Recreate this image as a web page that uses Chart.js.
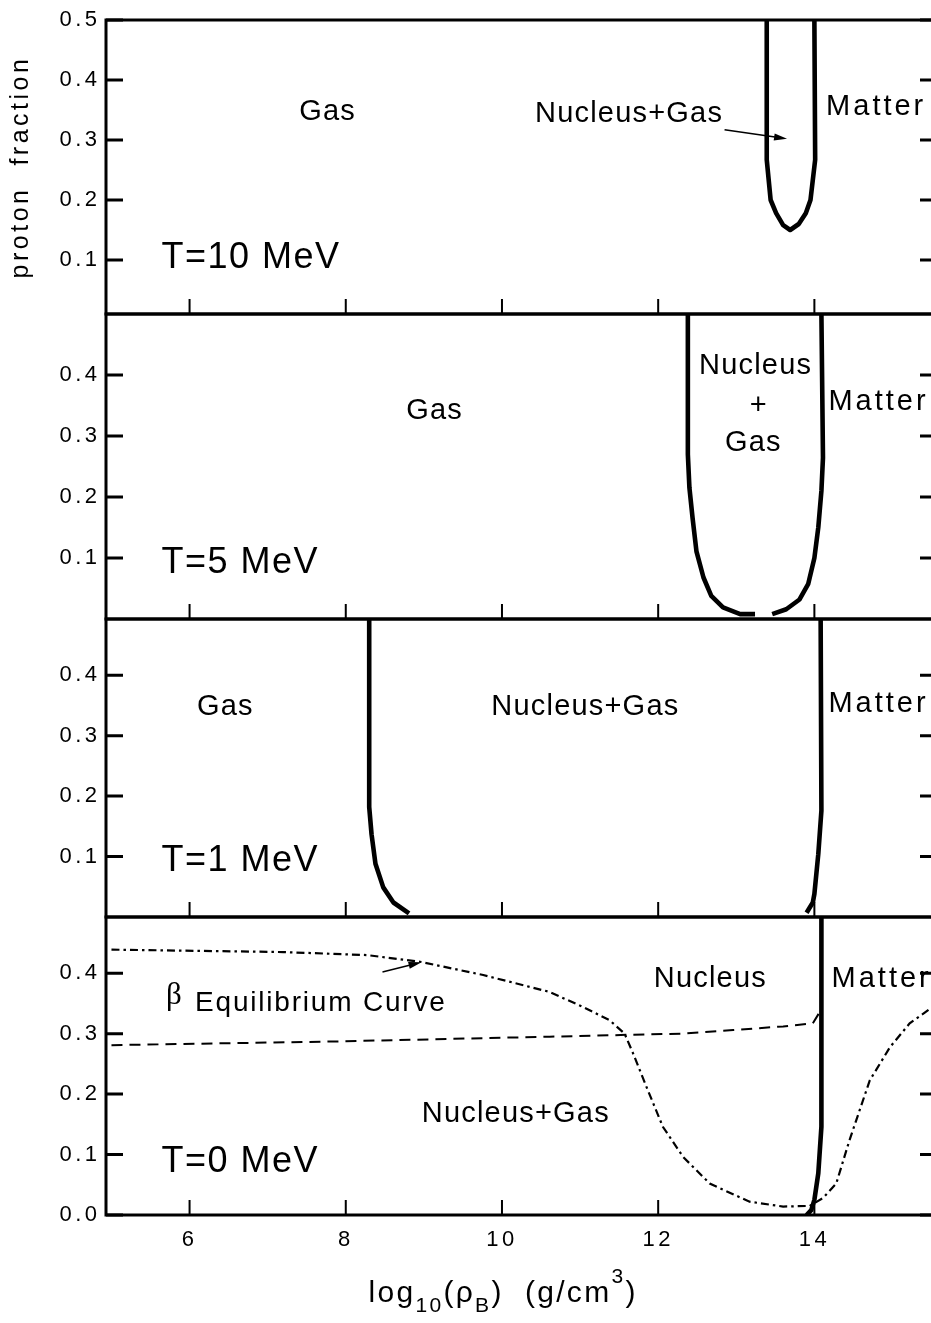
<!DOCTYPE html>
<html><head><meta charset="utf-8">
<script src="https://cdn.jsdelivr.net/npm/chart.js@4/dist/chart.umd.min.js"></script>
<style>
html,body{margin:0;padding:0;background:#fff;overflow:hidden;width:931px;height:1323px;position:relative;}
canvas{position:absolute;left:0;top:0;}
</style></head><body>
<canvas id="c1" width="945" height="1323"></canvas>
<canvas id="c2" width="945" height="1323"></canvas>
<canvas id="c3" width="945" height="1323"></canvas>
<canvas id="c4" width="945" height="1323"></canvas>
<script>
// ---------- data ----------
const xTicks   = [6, 8, 10, 12, 14];
const yTicksT10 = [0.1, 0.2, 0.3, 0.4, 0.5];
const yTicksT5  = [0.1, 0.2, 0.3, 0.4];
const yTicksT1  = [0.1, 0.2, 0.3, 0.4];
const yTicksT0  = [0.0, 0.1, 0.2, 0.3, 0.4];

// T = 10 MeV: nucleus+gas boundary
const t10X = [13.39, 13.39, 13.44, 13.51, 13.60, 13.69, 13.80, 13.89, 13.95, 14.01, 14.00];
const t10Y = [0.50, 0.267, 0.200, 0.178, 0.158, 0.150, 0.160, 0.178, 0.200, 0.267, 0.50];

// T = 5 MeV
const t5LeftX  = [12.38, 12.38, 12.40, 12.44, 12.49, 12.58, 12.68, 12.83, 13.05, 13.24];
const t5LeftY  = [0.50, 0.270, 0.215, 0.166, 0.111, 0.068, 0.038, 0.019, 0.008, 0.008];
const t5RightX = [13.46, 13.64, 13.81, 13.92, 14.00, 14.05, 14.09, 14.11, 14.09];
const t5RightY = [0.008, 0.016, 0.032, 0.057, 0.100, 0.150, 0.210, 0.264, 0.50];

// T = 1 MeV
const t1LeftX  = [8.30, 8.30, 8.33, 8.38, 8.48, 8.61, 8.81];
const t1LeftY  = [0.50, 0.182, 0.137, 0.088, 0.049, 0.024, 0.006];
const t1RightX = [14.08, 14.09, 14.05, 14.00, 13.98, 13.90];
const t1RightY = [0.50, 0.176, 0.104, 0.038, 0.024, 0.007];

// T = 0 MeV
const t0SolidX = [14.09, 14.09, 14.05, 14.00, 13.96, 13.90];
const t0SolidY = [0.50, 0.146, 0.069, 0.025, 0.008, 0.000];
const t0DashX  = [5.00, 7.83, 10.61, 11.59, 12.32, 12.96, 13.60, 13.98, 14.06];
const t0DashY  = [0.281, 0.287, 0.295, 0.298, 0.300, 0.306, 0.312, 0.317, 0.334];
const betaX = [5.00, 7.20, 8.27, 8.95, 9.76, 10.61, 11.04, 11.38, 11.57, 11.68, 11.85, 12.06, 12.32,
               12.66, 13.17, 13.60, 13.94, 14.11, 14.28, 14.45, 14.71, 14.97, 15.22, 15.49, 15.60];
const betaY = [0.439, 0.435, 0.430, 0.419, 0.397, 0.369, 0.344, 0.322, 0.300, 0.267, 0.212, 0.146, 0.096,
               0.052, 0.022, 0.014, 0.015, 0.028, 0.052, 0.124, 0.223, 0.278, 0.317, 0.342, 0.352];

const yTitle = 'proton  fraction';
const xTitleParts = ['log', '10', '(ρ', 'B', ')', '  (g/cm', '3', ')'];
const xTitleRoles = ['n', 'sub', 'n', 'sub', 'n', 'n', 'sup', 'n'];

// ---------- layout / style ----------
const FONT = "'Liberation Sans', Arial, Helvetica, sans-serif";
const CW = 945, CH = 1323;
const AXIS_LEFT = 106, AXIS_RIGHT = 937;
const X_MIN = 4.93, X_MAX = 15.57;

function pts(xs, ys) { return xs.map((x, i) => ({x: x, y: ys[i]})); }
const solid = (xs, ys) => ({data: pts(xs, ys), borderColor: '#000', borderWidth: 4.6, borderJoinStyle: 'round'});
const dashed = (xs, ys) => ({data: pts(xs, ys), borderColor: '#000', borderWidth: 2, borderDash: [11, 7]});
const dashDot = (xs, ys) => ({data: pts(xs, ys), borderColor: '#000', borderWidth: 2.2, borderDash: [8, 4, 2.5, 4]});

const panels = [
  {id: 'c1', top: 20, bottom: 314, yMin: 0.01, yMax: 0.5, yTicks: yTicksT10, title: yTitle, xLabels: false,
   series: [solid(t10X, t10Y)],
   notes: [
     {t: 'Gas', x: 7.76, y: 0.347},
     {t: 'Nucleus+Gas', x: 11.62, y: 0.343},
     {t: 'Matter', x: 14.15, y: 0.355, align: 'left', ls: 3},
     {t: 'T=10 MeV', x: 5.64, y: 0.103, align: 'left', size: 36, ls: 1.5}
   ],
   arrows: [{x1: 12.85, y1: 0.317, x2: 13.65, y2: 0.302}]},
  {id: 'c2', top: 314, bottom: 619, yMin: 0, yMax: 0.5, yTicks: yTicksT5, xLabels: false,
   series: [solid(t5LeftX, t5LeftY), solid(t5RightX, t5RightY)],
   notes: [
     {t: 'Gas', x: 9.13, y: 0.341},
     {t: 'Nucleus', x: 13.24, y: 0.415},
     {t: '+', x: 13.28, y: 0.350},
     {t: 'Gas', x: 13.21, y: 0.289},
     {t: 'Matter', x: 14.18, y: 0.355, align: 'left', ls: 3},
     {t: 'T=5 MeV', x: 5.64, y: 0.092, align: 'left', size: 36, ls: 1.5}
   ], arrows: []},
  {id: 'c3', top: 619, bottom: 917, yMin: 0, yMax: 0.493, yTicks: yTicksT1, xLabels: false,
   series: [solid(t1LeftX, t1LeftY), solid(t1RightX, t1RightY)],
   notes: [
     {t: 'Gas', x: 6.45, y: 0.347},
     {t: 'Nucleus+Gas', x: 11.06, y: 0.347},
     {t: 'Matter', x: 14.18, y: 0.353, align: 'left', ls: 3},
     {t: 'T=1 MeV', x: 5.64, y: 0.093, align: 'left', size: 36, ls: 1.5}
   ], arrows: []},
  {id: 'c4', top: 917, bottom: 1215, yMin: 0, yMax: 0.493, yTicks: yTicksT0, xLabels: true,
   series: [solid(t0SolidX, t0SolidY), dashed(t0DashX, t0DashY), dashDot(betaX, betaY)],
   notes: [
     {t: 'Nucleus', x: 12.66, y: 0.391},
     {t: 'Matter', x: 14.22, y: 0.391, align: 'left', ls: 3},
     {t: 'β', x: 5.80, y: 0.362, size: 31, family: "'Liberation Serif', 'DejaVu Serif', serif", ls: 0},
     {t: 'Equilibrium Curve', x: 6.07, y: 0.350, align: 'left', size: 28, ls: 1.8},
     {t: 'Nucleus+Gas', x: 10.17, y: 0.167},
     {t: 'T=0 MeV', x: 5.64, y: 0.088, align: 'left', size: 36, ls: 1.5}
   ],
   arrows: [{x1: 8.47, y1: 0.402, x2: 8.97, y2: 0.418}],
   xTitle: true}
];

const spacingPlugin = {
  id: 'spacing',
  beforeDraw(chart) { chart.ctx.letterSpacing = '3.5px'; },
  beforeDatasetsDraw(chart) { chart.ctx.letterSpacing = '0px'; }
};

function framePlugin(p) {
  return {
    id: 'frame',
    afterDatasetsDraw(chart) {
      const ctx = chart.ctx;
      const {left, right, top, bottom} = chart.chartArea;
      const xs = chart.scales.x, ys = chart.scales.y;
      ctx.save();
      ctx.strokeStyle = '#000';
      ctx.lineCap = 'butt';
      ctx.lineWidth = 3;
      ctx.strokeRect(left, top, right - left, bottom - top);
      ctx.beginPath();
      p.yTicks.forEach(v => {
        const py = ys.getPixelForValue(v);
        ctx.moveTo(left, py); ctx.lineTo(left + 17, py);
        ctx.moveTo(right - 17, py); ctx.lineTo(right, py);
      });
      ctx.stroke();
      ctx.lineWidth = 2;
      ctx.beginPath();
      xTicks.forEach(v => {
        const px = xs.getPixelForValue(v);
        ctx.moveTo(px, bottom); ctx.lineTo(px, bottom - 15);
      });
      ctx.stroke();
      ctx.restore();
    }
  };
}

function notesPlugin(p) {
  return {
    id: 'notes',
    afterDatasetsDraw(chart) {
      const ctx = chart.ctx;
      const xs = chart.scales.x, ys = chart.scales.y;
      ctx.save();
      ctx.fillStyle = '#000';
      ctx.strokeStyle = '#000';
      p.notes.forEach(n => {
        const ls = (n.ls !== undefined) ? n.ls : 1.2;
        ctx.font = (n.size || 29) + 'px ' + (n.family || FONT);
        ctx.letterSpacing = ls + 'px';
        ctx.textBaseline = 'middle';
        ctx.textAlign = n.align || 'center';
        const px = xs.getPixelForValue(n.x) + (n.align === 'left' ? 0 : ls / 2);
        ctx.fillText(n.t, px, ys.getPixelForValue(n.y));
      });
      ctx.letterSpacing = '0px';
      p.arrows.forEach(a => {
        const x1 = xs.getPixelForValue(a.x1), y1 = ys.getPixelForValue(a.y1);
        const x2 = xs.getPixelForValue(a.x2), y2 = ys.getPixelForValue(a.y2);
        const ang = Math.atan2(y2 - y1, x2 - x1);
        const hl = 13, hw = 3.5;
        ctx.lineWidth = 1.5;
        ctx.beginPath();
        ctx.moveTo(x1, y1);
        ctx.lineTo(x2 - hl * 0.8 * Math.cos(ang), y2 - hl * 0.8 * Math.sin(ang));
        ctx.stroke();
        ctx.beginPath();
        ctx.moveTo(x2, y2);
        ctx.lineTo(x2 - hl * Math.cos(ang) + hw * Math.sin(ang), y2 - hl * Math.sin(ang) - hw * Math.cos(ang));
        ctx.lineTo(x2 - hl * Math.cos(ang) - hw * Math.sin(ang), y2 - hl * Math.sin(ang) + hw * Math.cos(ang));
        ctx.closePath();
        ctx.fill();
      });
      if (p.xTitle) {
        const ls = 2.3;
        const sizes = {n: 30, sub: 21, sup: 21};
        const dys = {n: 0, sub: 10, sup: -19};
        ctx.letterSpacing = ls + 'px';
        ctx.textAlign = 'left';
        ctx.textBaseline = 'alphabetic';
        let total = 0;
        const widths = xTitleParts.map((t, i) => {
          ctx.font = sizes[xTitleRoles[i]] + 'px ' + FONT;
          const w = ctx.measureText(t).width;
          total += w;
          return w;
        });
        let cx = xs.getPixelForValue(10) - (total - ls) / 2;
        const base = 1302;
        xTitleParts.forEach((t, i) => {
          const r = xTitleRoles[i];
          ctx.font = sizes[r] + 'px ' + FONT;
          ctx.fillText(t, cx, base + dys[r]);
          cx += widths[i];
        });
      }
      ctx.restore();
    }
  };
}

panels.forEach(p => {
  const xh = p.xLabels ? 80 : 0;
  new Chart(document.getElementById(p.id), {
    type: 'scatter',
    data: {datasets: p.series.map(s => Object.assign({showLine: true, pointRadius: 0, tension: 0, fill: false}, s))},
    options: {
      responsive: false, animation: false, devicePixelRatio: 1, events: [],
      layout: {padding: {left: 0, right: CW - AXIS_RIGHT, top: p.top, bottom: CH - p.bottom - xh}},
      plugins: {legend: {display: false}, tooltip: {enabled: false}},
      scales: {
        x: {
          type: 'linear', min: X_MIN, max: X_MAX,
          grid: {display: false, drawTicks: false}, border: {display: false},
          afterBuildTicks: s => { s.ticks = xTicks.map(v => ({value: v})); },
          afterFit: s => { s.height = xh; },
          ticks: {display: p.xLabels, padding: 12, color: '#000', font: {family: FONT, size: 22},
                  maxRotation: 0, autoSkip: false, callback: v => String(v)}
        },
        y: {
          type: 'linear', min: p.yMin, max: p.yMax,
          grid: {display: false, drawTicks: false}, border: {display: false},
          afterBuildTicks: s => { s.ticks = p.yTicks.map(v => ({value: v})); },
          afterFit: s => { s.width = AXIS_LEFT; },
          ticks: {padding: 5.5, color: '#000', font: {family: FONT, size: 22}, autoSkip: false,
                  callback: v => Number(v).toFixed(1)},
          title: {display: !!p.title, text: p.title || '', color: '#000',
                  font: {family: FONT, size: 25}, padding: {top: 6, bottom: 0}}
        }
      }
    },
    plugins: [spacingPlugin, framePlugin(p), notesPlugin(p)]
  });
});
</script>
</body></html>
